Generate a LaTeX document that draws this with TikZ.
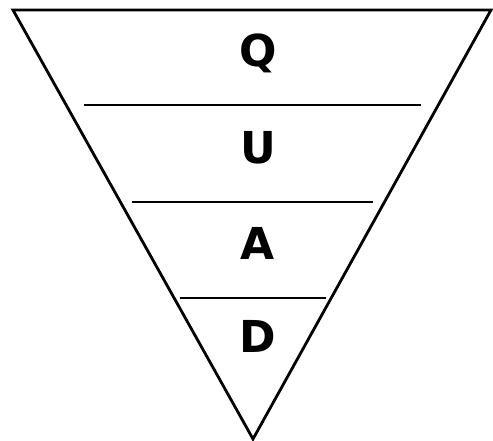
\documentclass[tikz,border=0pt]{standalone}
\usepackage{fontspec}
\newfontfamily\lblfont{DejaVu Sans}
\begin{document}
\begin{tikzpicture}[x=1pt,y=-1pt,
  edge/.style={line width=2.8pt,line join=miter},
  divider/.style={line width=2.3pt},
  letter/.style={font=\lblfont\bfseries\fontsize{44}{44}\selectfont,anchor=base,inner sep=0pt}]
\useasboundingbox (0,0) rectangle (493,441);
\coordinate (tl) at (13,10);
\coordinate (tr) at (491,10);
\coordinate (ap) at (253,439);
\draw[edge] (tl) -- (tr) -- (ap) -- cycle;
\coordinate (l1a) at (84,105); \coordinate (l1b) at (421,105);
\coordinate (l2a) at (132,202); \coordinate (l2b) at (373,202);
\coordinate (l3a) at (180,298); \coordinate (l3b) at (326,298);
\draw[divider] (l1a) -- (l1b);
\draw[divider] (l2a) -- (l2b);
\draw[divider] (l3a) -- (l3b);
\node[letter] (q) at (258,67) {Q};
\node[letter] (u) at (258,164) {U};
\node[letter] (a) at (258,259) {A};
\node[letter] (d) at (258,352) {D};
\end{tikzpicture}
\end{document}
